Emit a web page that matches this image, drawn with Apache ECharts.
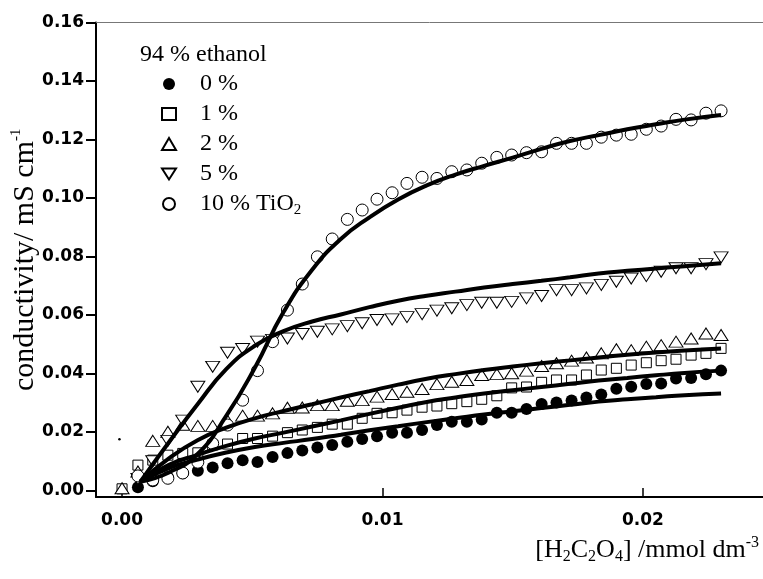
<!DOCTYPE html>
<html><head><meta charset="utf-8">
<script src="https://cdn.jsdelivr.net/npm/echarts@6/dist/echarts.min.js"></script>
<style>html,body{margin:0;padding:0;background:#fff}#c{width:763px;height:579px}</style>
</head><body><div id="c"></div>
<script>
// ---- data ----
const xConc = [0.00061, 0.00118, 0.00176, 0.00233, 0.00291, 0.00348, 0.00405, 0.00463, 0.0052, 0.00578,
  0.00635, 0.00692, 0.0075, 0.00807, 0.00865, 0.00922, 0.00979, 0.01037, 0.01094, 0.01152,
  0.01209, 0.01266, 0.01324, 0.01381, 0.01439, 0.01496, 0.01553, 0.01611, 0.01668, 0.01726,
  0.01783, 0.0184, 0.01898, 0.01955, 0.02013, 0.0207, 0.02127, 0.02185, 0.02242, 0.023];
const xZero = [0];
const names = ['0 %', '1 %', '2 %', '5 %', '10 % TiO2'];
const y0pct = [0.0011, 0.0032, 0.0046, 0.0059, 0.0068, 0.0079, 0.0093, 0.0104, 0.0098, 0.0115,
  0.0128, 0.0137, 0.0147, 0.0156, 0.0167, 0.0176, 0.0186, 0.0198, 0.0198, 0.0207,
  0.0224, 0.0235, 0.0235, 0.0243, 0.0266, 0.0266, 0.0279, 0.0296, 0.0301, 0.0308,
  0.0318, 0.0328, 0.0348, 0.0355, 0.0364, 0.0366, 0.0383, 0.0385, 0.0398, 0.0410];
const y1pct = [0.0087, 0.0104, 0.0121, 0.0127, 0.0129, 0.0156, 0.0159, 0.0178, 0.0178, 0.0186,
  0.0198, 0.0207, 0.0216, 0.0227, 0.0227, 0.0247, 0.0264, 0.0266, 0.0275, 0.0285,
  0.0289, 0.0297, 0.0304, 0.0312, 0.0324, 0.0351, 0.0354, 0.0370, 0.0378, 0.0378,
  0.0395, 0.0412, 0.0418, 0.0429, 0.0437, 0.0444, 0.0449, 0.0463, 0.0469, 0.0486];
const y2pct = [0.0065, 0.0170, 0.0201, 0.0225, 0.0221, 0.0221, 0.0239, 0.0256, 0.0256, 0.0264,
  0.0283, 0.0284, 0.0292, 0.0292, 0.0307, 0.0309, 0.0321, 0.0330, 0.0338, 0.0347,
  0.0364, 0.0372, 0.0378, 0.0395, 0.0398, 0.0401, 0.0410, 0.0426, 0.0435, 0.0444,
  0.0455, 0.0469, 0.0483, 0.0480, 0.0492, 0.0497, 0.0509, 0.0520, 0.0537, 0.0532];
const y5pct = [0.0040, 0.0100, 0.0170, 0.0239, 0.0355, 0.0423, 0.0471, 0.0484, 0.0509, 0.0515,
  0.0520, 0.0535, 0.0543, 0.0551, 0.0562, 0.0572, 0.0583, 0.0585, 0.0593, 0.0603,
  0.0615, 0.0623, 0.0634, 0.0642, 0.0642, 0.0645, 0.0657, 0.0665, 0.0685, 0.0685,
  0.0691, 0.0703, 0.0714, 0.0725, 0.0733, 0.0748, 0.0760, 0.0760, 0.0774, 0.0797];
const y10pct = [0.0050, 0.0036, 0.0042, 0.0060, 0.0097, 0.0161, 0.0224, 0.0309, 0.0410, 0.0509,
  0.0617, 0.0706, 0.0799, 0.0860, 0.0927, 0.0959, 0.0996, 0.1018, 0.1050, 0.1071,
  0.1067, 0.1090, 0.1096, 0.1119, 0.1139, 0.1147, 0.1155, 0.1158, 0.1187, 0.1187,
  0.1187, 0.1208, 0.1215, 0.1218, 0.1235, 0.1246, 0.1269, 0.1267, 0.1290, 0.1298];
const yZero1 = [0.0006];
const yZero2 = [0.0008];
const xDot = [-0.0001];
const yDot = [0.0175];
// fitted curves
const fitX = [0.0007, 0.0018, 0.0029, 0.004, 0.0051, 0.0062, 0.0073, 0.0084, 0.0095, 0.0106,
  0.0117, 0.0128, 0.0139, 0.015, 0.0161, 0.0172, 0.0183, 0.0194, 0.0205, 0.0216, 0.023];
const fit0 = [0.003, 0.0077, 0.0106, 0.0130, 0.0149, 0.0163, 0.0176, 0.0191, 0.0206, 0.0220,
  0.0234, 0.0247, 0.0260, 0.0271, 0.0282, 0.0293, 0.0304, 0.0312, 0.0319, 0.0326, 0.0332];
const fit1 = [0.003, 0.0088, 0.0122, 0.0153, 0.0178, 0.0198, 0.0219, 0.0240, 0.0262, 0.0283,
  0.0303, 0.0318, 0.0332, 0.0343, 0.0354, 0.0365, 0.0376, 0.0385, 0.0394, 0.0402, 0.0410];
const fit2 = [0.003, 0.0110, 0.0172, 0.0215, 0.0247, 0.0272, 0.0295, 0.0318, 0.0340, 0.0362,
  0.0382, 0.0398, 0.0412, 0.0424, 0.0435, 0.0445, 0.0455, 0.0464, 0.0472, 0.0479, 0.0486];
const fit5 = [0.003, 0.0165, 0.0295, 0.0415, 0.0495, 0.0545, 0.0578, 0.0602, 0.0627, 0.0649,
  0.0666, 0.0680, 0.0694, 0.0706, 0.0717, 0.0729, 0.0742, 0.0751, 0.0759, 0.0767, 0.0777];
const fit10 = [0.003, 0.0062, 0.0125, 0.0255, 0.0420, 0.0610, 0.0755, 0.0860, 0.0934, 0.0995,
  0.1043, 0.1080, 0.1110, 0.1138, 0.1168, 0.1195, 0.1215, 0.1235, 0.1252, 0.1268, 0.1284];
const xTicks = [0, 0.01, 0.02];
const xTickLabels = ['0.00', '0.01', '0.02'];
const yTicks = [0, 0.02, 0.04, 0.06, 0.08, 0.10, 0.12, 0.14, 0.16];
const yTickLabels = ['0.00', '0.02', '0.04', '0.06', '0.08', '0.10', '0.12', '0.14', '0.16'];

// ---- chart ----
const pairs = (xs, ys) => xs.map((x, i) => [x, ys[i]]);
const serif = '"Liberation Serif","Times New Roman",serif';
const sans = '"DejaVu Sans",Arial,sans-serif';
const open = {color: '#fff', borderColor: '#000', borderWidth: 1, opacity: 1};
const filled = {color: '#000', opacity: 1};
const chart = echarts.init(document.getElementById('c'));
const XMIN = -0.001, XMAX = 0.02461;
function scatter(name, data, symbol, size, style, extra) {
  return Object.assign({type: 'scatter', name, data, symbol, symbolSize: size, itemStyle: style, z: 2, silent: true}, extra || {});
}
function fit(name, ys) {
  return {type: 'line', name, data: pairs(fitX, ys), showSymbol: false, symbol: 'none', smooth: 0.5,
    lineStyle: {color: '#000', width: 4}, z: 3, silent: true};
}
const legendData = names.map(n => n === '5 %' ? {name: n, icon: 'path://M0,0 L14,0 L7,11 Z'} : {name: n});
chart.setOption({
  animation: false,
  backgroundColor: '#fff',
  grid: {left: 96, right: 0, top: 22.5, bottom: 82, containLabel: false, outerBoundsMode: 'none'},
  title: {text: '94 % ethanol', left: 140, top: 43, padding: 0,
    textStyle: {fontFamily: serif, fontSize: 24, fontWeight: 'normal', color: '#000'}},
  legend: {
    data: legendData, orient: 'vertical', left: 161, top: 72, padding: 0,
    itemWidth: 14, itemHeight: 12, itemGap: 6, selectedMode: false,
    formatter: n => n === '10 % TiO2' ? '10 % TiO{sub|2}' : n,
    textStyle: {fontFamily: serif, fontSize: 24, color: '#000', lineHeight: 24, padding: [0, 0, 0, 19],
      rich: {sub: {fontFamily: serif, fontSize: 15, color: '#000', padding: [12, 0, 0, 0]}}}
  },
  xAxis: [{
    type: 'value', min: XMIN, max: XMAX, position: 'bottom',
    axisLine: {onZero: false, lineStyle: {color: '#000', width: 2}},
    axisTick: {inside: true, length: 9, customValues: xTicks, lineStyle: {color: '#000', width: 1.5}},
    axisLabel: {customValues: xTicks, formatter: v => xTickLabels[xTicks.findIndex(t => Math.abs(t - v) < 1e-9)],
      margin: 15, fontFamily: sans, fontWeight: 'bold', fontSize: 17, color: '#000'},
    splitLine: {show: false},
    name: '[H{sub|2}C{sub|2}O{sub|4}] /mmol dm{sup|-3}', nameLocation: 'end', nameGap: -4,
    nameMoveOverlap: false,
    nameTextStyle: {align: 'right', verticalAlign: 'top', padding: [38, 0, 0, 0],
      fontFamily: serif, fontSize: 26, color: '#000',
      rich: {sub: {fontFamily: serif, fontSize: 16, color: '#000', padding: [13, 0, 0, 0]},
             sup: {fontFamily: serif, fontSize: 16, color: '#000', padding: [0, 0, 15, 0]}}}
  }, {
    type: 'value', min: XMIN, max: XMAX, position: 'top',
    axisLine: {onZero: false, lineStyle: {color: '#777', width: 1}},
    axisTick: {show: false}, axisLabel: {show: false}, splitLine: {show: false}
  }],
  yAxis: {
    type: 'value', min: -0.0022, max: 0.16,
    axisLine: {onZero: false, lineStyle: {color: '#000', width: 2}},
    axisTick: {inside: false, length: 10, customValues: yTicks, lineStyle: {color: '#000', width: 2}},
    axisLabel: {customValues: yTicks, formatter: v => yTickLabels[yTicks.findIndex(t => Math.abs(t - v) < 1e-9)],
      margin: 12, fontFamily: sans, fontWeight: 'bold', fontSize: 17, color: '#000'},
    splitLine: {show: false},
    name: 'conductivity/ mS cm{sup|-1}', nameLocation: 'middle', nameRotate: 90, nameGap: 54,
    nameMoveOverlap: false,
    nameTextStyle: {fontFamily: serif, fontSize: 30, color: '#000',
      rich: {sup: {fontFamily: serif, fontSize: 15, color: '#000', padding: [0, 0, 18, 0]}}}
  },
  series: [
    scatter(names[0], pairs(xConc, y0pct), 'circle', 12, filled),
    scatter(names[1], pairs(xZero, yZero1).concat(pairs(xConc, y1pct)), 'rect', 10, open),
    scatter(names[2], pairs(xZero, yZero2).concat(pairs(xConc, y2pct)), 'triangle', [14, 11], open),
    scatter(names[3], pairs(xConc, y5pct), 'triangle', [14, 11], open, {symbolRotate: 180}),
    scatter(names[4], pairs(xConc, y10pct), 'circle', 12, open),
    scatter('dot', pairs(xDot, yDot), 'circle', 2.5, filled),
    fit('fit 0 %', fit0), fit('fit 1 %', fit1), fit('fit 2 %', fit2), fit('fit 5 %', fit5), fit('fit 10 %', fit10)
  ]
});
</script></body></html>
